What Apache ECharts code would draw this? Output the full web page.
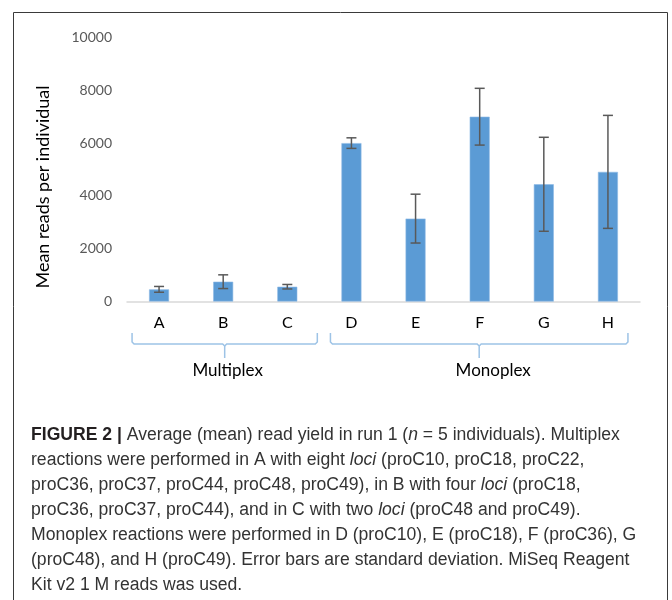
<!DOCTYPE html>
<html>
<head>
<meta charset="utf-8">
<script src="https://cdn.jsdelivr.net/npm/echarts@6/dist/echarts.min.js"></script>
<style>
html,body{margin:0;padding:0;background:#fff;}
#chart{width:672px;height:600px;}
</style>
</head>
<body>
<div id="chart"></div>
<script>
// ---- data ----
const categories = ['A', 'B', 'C', 'D', 'E', 'F', 'G', 'H'];
const meanReads = [460, 750, 560, 6000, 3140, 7000, 4440, 4910];
const sdReads = [110, 260, 85, 200, 925, 1075, 1780, 2140];
const yTicks = { min: 0, max: 10000, interval: 2000 };
const groupNames = ['Multiplex', 'Monoplex'];
const groupFirst = [0, 3];
const groupLast = [2, 7];
const yAxisTitle = 'Mean reads per individual';
const captionLines = [
  '{b|FIGURE 2 |} Average (mean) read yield in run 1 ({i|n} = 5 individuals). Multiplex',
  'reactions were performed in A with eight {i|loci} (proC10, proC18, proC22,',
  'proC36, proC37, proC44, proC48, proC49), in B with four {i|loci} (proC18,',
  'proC36, proC37, proC44), and in C with two {i|loci} (proC48 and proC49).',
  'Monoplex reactions were performed in D (proC10), E (proC18), F (proC36), G',
  '(proC48), and H (proC49). Error bars are standard deviation. MiSeq Reagent',
  'Kit v2 1 M reads was used.'
];

const chartFont = 'Lato, "Open Sans", sans-serif';
const capFont = '"Liberation Sans", Arial, sans-serif';
const capSize = 17.6;
const chart = echarts.init(document.getElementById('chart'));

const errData = categories.map((c, i) => [i, meanReads[i] + sdReads[i], meanReads[i] - sdReads[i]]);

function baseGraphics() {
  const g = [];
  g.push({
    id: 'frame', type: 'rect', silent: true,
    shape: { x: 13.5, y: 12.5, width: 654, height: 640 },
    style: { fill: 'none', stroke: '#3a3a3a', lineWidth: 1 }
  });
  g.push({
    id: 'ytitle', type: 'text', x: 43, y: 187, rotation: Math.PI / 2,
    style: {
      text: yAxisTitle, fill: '#000', fontSize: 18, fontFamily: chartFont,
      align: 'center', verticalAlign: 'middle'
    }
  });
  const capRich = {
    b: { fontWeight: 'bold', fontSize: capSize, fontFamily: capFont, fill: '#231f20' },
    i: { fontStyle: 'italic', fontSize: capSize, fontFamily: capFont, fill: '#333' }
  };
  captionLines.forEach((line, k) => {
    g.push({
      id: 'cap' + k, type: 'text', x: 31, y: 435 + k * 25,
      style: {
        text: line, rich: capRich, fill: '#333', fontSize: capSize,
        fontFamily: capFont, align: 'left', verticalAlign: 'middle'
      }
    });
  });
  return g;
}

chart.setOption({
  backgroundColor: '#fff',
  animation: false,
  grid: { left: 127, right: 32, top: 37.5, bottom: 298.5 },
  xAxis: {
    type: 'category', data: categories,
    axisLine: { lineStyle: { color: '#d9d9d9', width: 1.5 } },
    axisTick: { show: false },
    axisLabel: { color: '#000', fontSize: 16, fontFamily: chartFont, margin: 13 }
  },
  yAxis: {
    type: 'value', min: yTicks.min, max: yTicks.max, interval: yTicks.interval,
    axisLine: { show: false }, axisTick: { show: false },
    splitLine: { show: false },
    axisLabel: {
      color: '#595959', fontSize: 14, fontFamily: chartFont, margin: 15,
      formatter: function (v) { return String(v); }
    }
  },
  series: [
    {
      type: 'bar', data: meanReads, barWidth: 20,
      itemStyle: { color: '#5b9bd5', borderColor: '#8fbbe6', borderWidth: 0.6 }
    },
    {
      type: 'custom', data: errData, z: 5,
      renderItem: function (params, api) {
        const x = api.value(0);
        const pHi = api.coord([x, api.value(1)]);
        const pLo = api.coord([x, api.value(2)]);
        const w = 5;
        const st = { stroke: '#595959', lineWidth: 1.5 };
        return {
          type: 'group', children: [
            { type: 'line', shape: { x1: pHi[0], y1: pHi[1], x2: pLo[0], y2: pLo[1] }, style: st },
            { type: 'line', shape: { x1: pHi[0] - w, y1: pHi[1], x2: pHi[0] + w, y2: pHi[1] }, style: st },
            { type: 'line', shape: { x1: pLo[0] - w, y1: pLo[1], x2: pLo[0] + w, y2: pLo[1] }, style: st }
          ]
        };
      }
    }
  ],
  graphic: baseGraphics()
});

// braces under the category groups, positioned from the category axis
const g = baseGraphics();
const startOff = [-27, -21], endOff = [30, 20], labelShift = [3, 14];
groupNames.forEach((name, k) => {
  const x0 = chart.convertToPixel({ xAxisIndex: 0 }, categories[groupFirst[k]]) + startOff[k];
  const x1 = chart.convertToPixel({ xAxisIndex: 0 }, categories[groupLast[k]]) + endOff[k];
  const xm = (x0 + x1) / 2;
  const yTop = 333, yLine = 344, yTip = 358, r = 2;
  const st = { fill: 'none', stroke: '#9dc3e6', lineWidth: 1.5 };
  g.push({
    id: 'braceL' + k, type: 'polyline', silent: true,
    shape: { points: [[x0, yTop], [x0, yLine - r], [x0 + r, yLine], [xm - r, yLine], [xm, yLine + r], [xm, yTip]] },
    style: st
  });
  g.push({
    id: 'braceR' + k, type: 'polyline', silent: true,
    shape: { points: [[x1, yTop], [x1, yLine - r], [x1 - r, yLine], [xm + r, yLine], [xm, yLine + r]] },
    style: st
  });
  g.push({
    id: 'glabel' + k, type: 'text', x: xm + labelShift[k], y: 371,
    style: {
      text: name, fill: '#000', fontSize: 17, fontFamily: chartFont,
      align: 'center', verticalAlign: 'middle'
    }
  });
});
chart.setOption({ graphic: g });
</script>
</body>
</html>
